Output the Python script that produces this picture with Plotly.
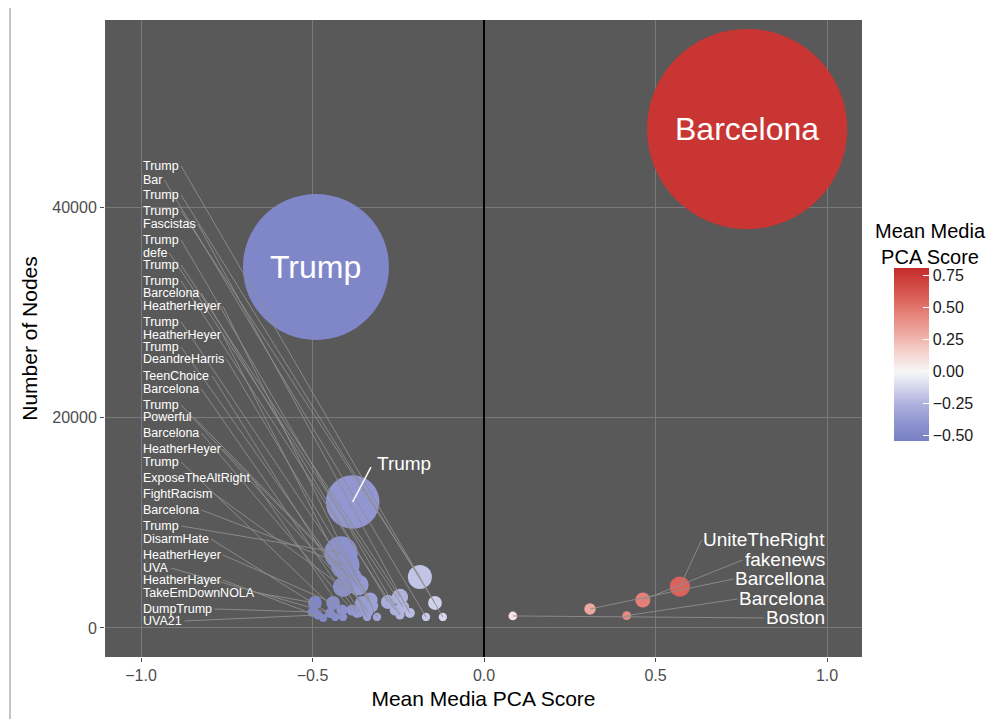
import plotly.graph_objects as go

# ---------------- data ----------------
# labelled small bubbles on the left (label text, point x, nodes, label y)
left_tags = ["Trump", "Bar", "Trump", "Trump", "Fascistas", "Trump", "defe", "Trump",
             "Trump", "Barcelona", "HeatherHeyer", "Trump", "HeatherHeyer", "Trump",
             "DeandreHarris", "TeenChoice", "Barcelona", "Trump", "Powerful", "Barcelona",
             "HeatherHeyer", "Trump", "ExposeTheAltRight", "FightRacism", "Barcelona",
             "Trump", "DisarmHate", "HeatherHeyer", "UVA", "HeatherHayer",
             "TakeEmDownNOLA", "DumpTrump", "UVA21"]
left_x = [-0.120, -0.169, -0.143, -0.187, -0.216, -0.245, -0.236, -0.245,
          -0.259, -0.280, -0.312, -0.327, -0.341, -0.338,
          -0.332, -0.362, -0.370, -0.356, -0.367, -0.385,
          -0.391, -0.411, -0.414, -0.411, -0.405,
          -0.417, -0.434, -0.440, -0.449, -0.469,
          -0.493, -0.499, -0.484]
left_nodes = [1045, 1045, 2375, 4845, 1425, 1235, 1995, 2945,
              1710, 2470, 1045, 2090, 1045, 1520,
              2660, 1520, 1425, 2375, 4085, 1710,
              4750, 1045, 1710, 3895, 5985,
              7125, 1045, 2375, 1425, 950,
              2375, 1520, 1235]
left_label_y = [43894, 42565, 41140, 39620, 38385, 36865, 35630, 34490,
                32970, 31830, 30590, 29070, 27835, 26695,
                25555, 23940, 22705, 21185, 20045, 18525,
                17005, 15770, 14250, 12730, 11210,
                9690, 8455, 6935, 5700, 4560,
                3325, 1805, 665]

right_tags = ["UniteTheRight", "fakenews", "Barcellona", "Barcelona", "Boston"]
right_x = [0.571, 0.463, 0.309, 0.416, 0.084]
right_nodes = [3920, 2660, 1800, 1170, 1140]
right_label_y = [8360, 6460, 4655, 2755, 950]

mid_tag = "Trump"
mid_x = -0.383
mid_nodes = 11970
mid_label_x = -0.318
mid_label_y = 15675

big_tags = ["Barcelona", "Trump"]
big_x = [0.767, -0.49]
big_nodes = [47410, 34300]

x_ticks = [-1.0, -0.5, 0.0, 0.5, 1.0]
y_ticks = [0, 20000, 40000]
cbar_ticks = [-0.5, -0.25, 0.0, 0.25, 0.5, 0.75]

# ---------------- layout constants ----------------
OFF = 8  # page body margin of the browser
X_RANGE = [-1.105, 1.102]
Y_RANGE = [-2760, 57770]
M_L, M_R, M_T, M_B = 105 - OFF, 138, 20 - OFF, 62
W_FIG, H_FIG = 1000 - OFF, 719 - OFF
PW = W_FIG - M_L - M_R
PH = H_FIG - M_T - M_B
PXU = PW / (X_RANGE[1] - X_RANGE[0])  # pixels per x unit


def page_x(px):
    return (px - OFF - M_L) / PW


def page_y(py):
    return (H_FIG - M_B - (py - OFF)) / PH


CMIN, CMAX = -0.54, 0.81
stops = [(-0.54, "#7880c5"), (-0.40, "#8e94cf"), (-0.25, "#afb2dd"), (-0.12, "#d6d7ee"),
         (0.0, "#f7f7f7"), (0.15, "#f5d3ce"), (0.30, "#eeaaa2"), (0.45, "#e5837a"),
         (0.60, "#d95b53"), (0.81, "#c42b2b")]
colorscale = [[(v - CMIN) / (CMAX - CMIN), c] for v, c in stops]

CW = {'a': .556, 'b': .556, 'c': .5, 'd': .556, 'e': .556, 'f': .278, 'g': .556, 'h': .556,
      'i': .222, 'j': .222, 'k': .5, 'l': .222, 'm': .833, 'n': .556, 'o': .556, 'p': .556,
      'q': .556, 'r': .333, 's': .5, 't': .278, 'u': .556, 'v': .5, 'w': .722, 'x': .5,
      'y': .5, 'z': .5, 'A': .667, 'B': .667, 'C': .722, 'D': .722, 'E': .667, 'F': .611,
      'G': .778, 'H': .722, 'I': .278, 'J': .5, 'K': .667, 'L': .556, 'M': .833, 'N': .722,
      'O': .778, 'P': .667, 'Q': .778, 'R': .722, 'S': .667, 'T': .611, 'U': .722, 'V': .667,
      'W': .944, 'X': .667, 'Y': .667, 'Z': .611}


def text_w(s, fs):
    return sum(CW.get(c, 0.556) for c in s) * fs


def size_px(n):
    return 4 + n * 0.00414


FONT = "Liberation Sans, Arial, Helvetica, sans-serif"
LFS, RFS, MFS, BFS = 12.5, 19, 19, 32

fig = go.Figure()

all_x = big_x + [mid_x] + left_x + right_x
all_n = big_nodes + [mid_nodes] + left_nodes + right_nodes
fig.add_trace(go.Scatter(
    x=all_x, y=all_n, mode="markers", hoverinfo="skip", showlegend=False,
    marker=dict(size=[size_px(n) for n in all_n], sizemode="diameter",
                color=all_x, colorscale=colorscale, cmin=CMIN, cmax=CMAX,
                opacity=1, line=dict(width=0),
                colorbar=dict(
                    x=page_x(894), xanchor="left", xref="paper",
                    y=page_y(354.5), yanchor="middle",
                    lenmode="pixels", len=173, thickness=35, thicknessmode="pixels",
                    outlinewidth=0, tickvals=cbar_ticks, tickformat=".2f",
                    ticks="inside", ticklen=6, tickcolor="white", tickwidth=1,
                    tickfont=dict(size=16, color="#1a1a1a", family=FONT),
                    xpad=0, ypad=0))))

# segments
sx, sy = [], []
for t, px, n, ly in zip(left_tags, left_x, left_nodes, left_label_y):
    sx += [-1.0 + (text_w(t, LFS) + 4) / PXU, px, None]
    sy += [ly, n, None]
for t, px, n, ly in zip(right_tags, right_x, right_nodes, right_label_y):
    sx += [1.0 - (text_w(t, RFS) + 4) / PXU, px, None]
    sy += [ly, n, None]
fig.add_trace(go.Scatter(x=sx, y=sy, mode="lines", hoverinfo="skip", showlegend=False,
                         line=dict(color="#8e8e8e", width=0.9)))
fig.add_trace(go.Scatter(x=[mid_label_x - 4 / PXU, mid_x], y=[mid_label_y - 400, mid_nodes],
                         mode="lines", hoverinfo="skip", showlegend=False,
                         line=dict(color="white", width=1.5)))

ann = []
for t, ly in zip(left_tags, left_label_y):
    ann.append(dict(x=-1.0, y=ly, text=t, xanchor="left", yanchor="middle", showarrow=False,
                    font=dict(size=LFS, color="white", family=FONT)))
for t, ly in zip(right_tags, right_label_y):
    ann.append(dict(x=1.0, y=ly, text=t, xanchor="right", yanchor="middle", showarrow=False,
                    font=dict(size=RFS, color="white", family=FONT)))
ann.append(dict(x=mid_label_x, y=mid_label_y, text=mid_tag, xanchor="left", yanchor="middle",
                showarrow=False, font=dict(size=MFS, color="white", family=FONT)))
for t, bx, bn in zip(big_tags, big_x, big_nodes):
    ann.append(dict(x=bx, y=bn, text=t, xanchor="center", yanchor="middle", showarrow=False,
                    font=dict(size=BFS, color="white", family=FONT)))
# colour bar title
ann.append(dict(xref="paper", yref="paper", x=page_x(930), y=page_y(244),
                text="Mean Media<br>PCA Score", xanchor="center", yanchor="middle",
                align="center", showarrow=False,
                font=dict(size=20, color="#000000", family=FONT)))

fig.update_layout(
    width=W_FIG, height=H_FIG,
    margin=dict(l=M_L, r=M_R, t=M_T, b=M_B, pad=0, autoexpand=False),
    paper_bgcolor="white", plot_bgcolor="#595959",
    font=dict(family=FONT),
    annotations=ann,
    shapes=[dict(type="line", xref="paper", yref="paper",
                 x0=page_x(10), x1=page_x(10), y0=page_y(730), y1=page_y(0),
                 line=dict(color="#8a8a8a", width=1))],
    xaxis=dict(range=X_RANGE, tickvals=x_ticks, tickformat=".1f", automargin=False,
               showgrid=True, gridcolor="#7a7a7a", gridwidth=0.8,
               zeroline=True, zerolinecolor="#000000", zerolinewidth=2,
               ticks="outside", ticklen=4, tickcolor="#4d4d4d",
               tickfont=dict(size=16, color="#4d4d4d"),
               title=dict(text="Mean Media PCA Score", font=dict(size=21, color="#000000"),
                          standoff=8),
               showline=False),
    yaxis=dict(range=Y_RANGE, tickvals=y_ticks, tickformat="d", automargin=False,
               showgrid=True, gridcolor="#7a7a7a", gridwidth=0.8, zeroline=False,
               ticks="outside", ticklen=4, tickcolor="#4d4d4d",
               tickfont=dict(size=16, color="#4d4d4d"),
               title=dict(text="Number of Nodes", font=dict(size=21, color="#000000"),
                          standoff=8),
               showline=False),
)

fig.write_html("out.html")
